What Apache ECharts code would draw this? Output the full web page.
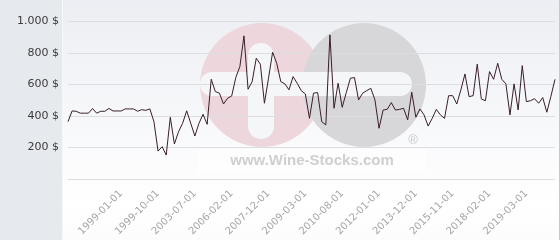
<!DOCTYPE html>
<html><head><meta charset="utf-8">
<script src="https://cdn.jsdelivr.net/npm/echarts@6/dist/echarts.min.js"></script>
<style>html,body{margin:0;padding:0;background:#fff}#c{width:560px;height:240px}</style>
</head><body><div id="c"></div>
<script>
const categories = [
'1997-12-01','1998-01-01','1998-02-01','1998-03-01','1998-04-01','1998-05-01','1998-06-01','1998-07-01','1998-08-01','1998-09-01','1998-10-01','1998-11-01','1998-12-01',
'1999-01-01','1999-02-01','1999-03-01','1999-04-01','1999-05-01','1999-06-01','1999-07-01','1999-08-01','1999-09-01','1999-10-01',
'2000-01-01','2000-06-01','2000-11-01','2001-04-01','2001-09-01','2002-02-01','2002-07-01','2002-12-01','2003-07-01',
'2003-10-01','2004-01-01','2004-04-01','2004-07-01','2004-10-01','2005-02-01','2005-06-01','2005-10-01','2006-02-01',
'2006-05-01','2006-07-01','2006-10-01','2007-01-01','2007-03-01','2007-05-01','2007-08-01','2007-10-01','2007-12-01',
'2008-02-01','2008-04-01','2008-05-01','2008-07-01','2008-08-01','2008-10-01','2008-12-01','2009-01-01','2009-03-01',
'2009-05-01','2009-07-01','2009-09-01','2009-10-01','2009-12-01','2010-02-01','2010-04-01','2010-06-01','2010-08-01',
'2010-10-01','2010-12-01','2011-02-01','2011-04-01','2011-06-01','2011-07-01','2011-09-01','2011-11-01','2012-01-01',
'2012-04-01','2012-06-01','2012-09-01','2012-11-01','2013-02-01','2013-05-01','2013-07-01','2013-10-01','2013-12-01',
'2014-03-01','2014-06-01','2014-08-01','2014-11-01','2015-02-01','2015-04-01','2015-07-01','2015-09-01','2015-11-01',
'2016-02-01','2016-05-01','2016-08-01','2016-11-01','2017-02-01','2017-05-01','2017-08-01','2017-11-01','2018-02-01',
'2018-04-01','2018-05-01','2018-07-01','2018-08-01','2018-09-01','2018-11-01','2018-12-01','2019-01-01','2019-03-01',
'2019-04-01','2019-05-01','2019-06-01','2019-07-01','2019-08-01','2019-09-01','2019-10-01'
];
const prices = [
364,432,430,418,418,418,448,418,430,430,448,432,432,432,445,445,445,430,440,436,445,
364,177,205,152,392,222,300,353,433,353,273,353,411,347,633,555,545,476,513,527,644,
714,909,570,618,767,729,481,640,805,735,618,604,566,650,608,561,540,385,
545,549,364,343,915,449,608,455,549,640,644,502,545,561,576,502,322,438,442,485,
438,442,449,375,551,392,445,407,336,385,442,407,385,529,529,476,566,667,523,529,
729,508,497,682,633,735,633,604,407,604,438,720,491,497,510,481,517,424,525,633
];
const yTickLabels = ['', '200 $', '400 $', '600 $', '800 $', '1.000 $'];
const firstLabelIndex = 13;
const labelStep = 9;

const chart = echarts.init(document.getElementById('c'), null, {renderer:'canvas'});
chart.setOption({
  backgroundColor: '#e6eaee',
  animation: false,
  graphic: [
    {type:'rect', z:-100, silent:true, shape:{x:63,y:0,width:497,height:240},
     style:{fill:new echarts.graphic.LinearGradient(0,0,0,1,[{offset:0,color:'#eceef3'},{offset:0.85,color:'#ffffff'},{offset:1,color:'#fcfcfd'}])}},
    {type:'rect', z:-100, silent:true, shape:{x:62,y:0,width:1,height:240}, style:{fill:'#f6f7f9'}},
    {type:'rect', z:-100, silent:true, shape:{x:559,y:0,width:1,height:240}, style:{fill:'#c8c8c8'}},
    {type:'circle', z:-90, silent:true, shape:{cx:262,cy:85,r:62}, style:{fill:'#edd7dc'}},
    {type:'circle', z:-89, silent:true, shape:{cx:364,cy:85,r:62}, style:{fill:'#d7d7d9'}},
    {type:'rect', z:-88, silent:true, shape:{x:200,y:72,width:212,height:24,r:12}, style:{fill:'#f5f6f8'}},
    {type:'rect', z:-88, silent:true, shape:{x:248,y:43,width:26,height:96,r:13}, style:{fill:'#f5f6f8'}},
    {type:'rect', z:-87, silent:true, shape:{x:198,y:149,width:228,height:24}, style:{fill:'rgba(255,255,255,0.55)'}},
    {type:'text', z:-86, silent:true, style:{x:312,y:161,text:'www.Wine-Stocks.com',fill:'#cfcfcf',font:'bold 15px "Liberation Sans", Arial',align:'center',verticalAlign:'middle'}},
    {type:'text', z:-86, silent:true, style:{x:413,y:140,text:'®',fill:'#c8c8c8',font:'13px "Liberation Sans", Arial',align:'center',verticalAlign:'middle'}}
  ],
  grid: {left:68, right:5, top:21.5, bottom:61},
  xAxis: {
    type:'category', data:categories, boundaryGap:false,
    axisLine:{show:false}, axisTick:{show:false},
    axisLabel:{
      rotate:45, margin:13, color:'#a5a5a5', fontSize:10, fontFamily:'DejaVu Sans',
      interval:(i)=> i>=firstLabelIndex && (i-firstLabelIndex)%labelStep===0
    },
    splitLine:{show:false}
  },
  yAxis: {
    type:'value', min:0, max:1000, interval:200,
    axisLine:{show:false}, axisTick:{show:false},
    axisLabel:{margin:9, color:'#3a3a3a', fontSize:11, fontFamily:'DejaVu Sans',
      formatter:(v)=> yTickLabels[Math.round(v/200)]},
    splitLine:{lineStyle:{color:'#dcdde0', width:1}}
  },
  series: [{
    type:'line', data:prices, showSymbol:false, symbol:'none',
    lineStyle:{color:'#3a1e2b', width:1}, z:5
  }]
});
</script>
</body></html>
